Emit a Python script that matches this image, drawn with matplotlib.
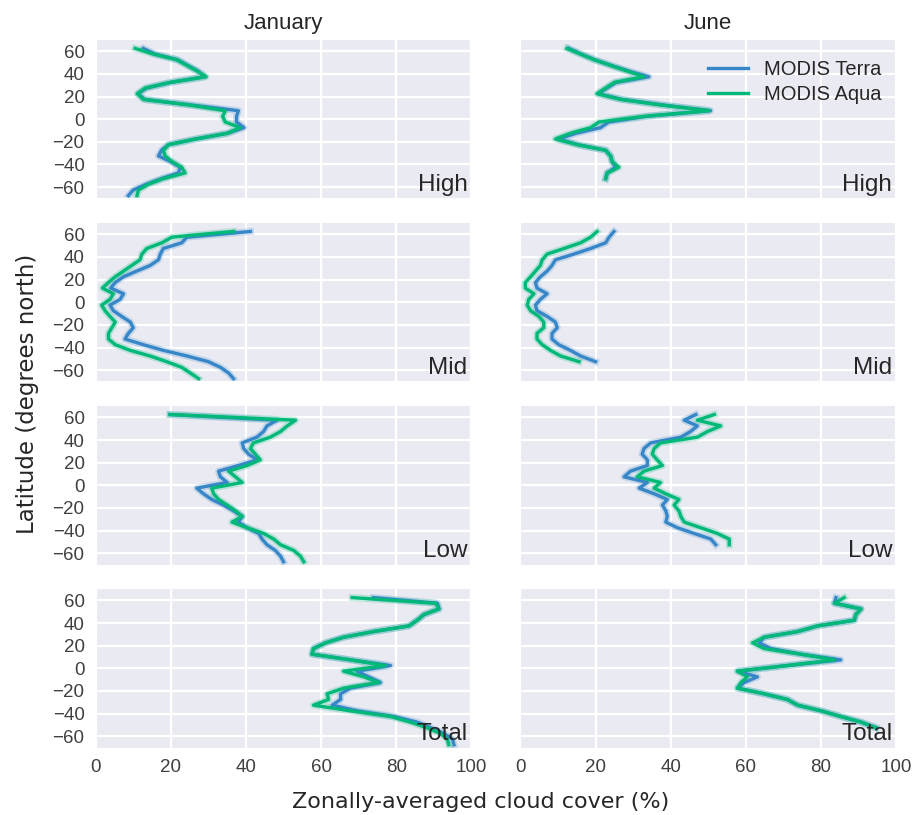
import numpy as np
import matplotlib
matplotlib.use("Agg")
import matplotlib.pyplot as plt

# latitude bin centres (degrees north)
lat_jan = [62.5, 57.5, 52.5, 47.5, 42.5, 37.5, 32.5, 27.5, 22.5, 17.5, 12.5, 7.5, 2.5,
           -2.5, -7.5, -12.5, -17.5, -22.5, -27.5, -32.5, -37.5, -42.5, -47.5, -52.5,
           -57.5, -62.5, -67.5]
lat_jun = [62.5, 57.5, 52.5, 47.5, 42.5, 37.5, 32.5, 27.5, 22.5, 17.5, 12.5, 7.5, 2.5,
           -2.5, -7.5, -12.5, -17.5, -22.5, -27.5, -32.5, -37.5, -42.5, -47.5, -52.5]

#----------------- January -----------------#
jan_high_terra = [12.7, 15.8, 21.8, 24.5, 27.2, 29.0, 20.0, 13.5, 11.3, 13.0, 25.5, 38.0, 37.5,
                  37.5, 39.5, 35.0, 26.6, 19.4, 17.5, 16.7, 20.0, 22.5, 22.0, 17.5, 13.5, 10.0, 8.7]
jan_high_aqua = [10.5, 15.4, 21.6, 24.3, 27.0, 29.4, 19.8, 13.2, 11.1, 12.7, 25.0, 34.5, 33.8,
                 34.5, 38.5, 35.0, 26.6, 19.4, 18.0, 18.5, 20.3, 22.9, 23.8, 18.0, 14.0, 11.4, 11.0]

jan_mid_terra = [41.2, 24.3, 22.9, 18.0, 17.2, 16.7, 14.5, 10.9, 7.4, 5.2, 4.0, 7.4, 6.5,
                 3.8, 4.7, 6.9, 9.2, 10.0, 8.7, 7.8, 12.7, 18.0, 24.3, 30.0, 33.2, 35.4, 36.7]
jan_mid_aqua = [36.7, 20.3, 17.6, 13.6, 12.3, 11.8, 9.6, 7.4, 5.2, 3.4, 1.8, 4.7, 3.8,
                1.6, 2.5, 3.8, 5.2, 4.3, 3.4, 3.4, 5.2, 9.2, 14.5, 18.9, 22.9, 25.2, 27.4]

jan_low_terra = [19.8, 48.3, 45.6, 44.7, 42.9, 39.0, 39.4, 40.7, 43.0, 38.0, 32.7, 33.2, 35.0,
                 26.9, 28.7, 30.9, 34.0, 36.7, 39.0, 38.0, 40.3, 43.4, 44.3, 45.6, 47.8, 49.2, 50.0]
jan_low_aqua = [19.8, 53.2, 51.0, 49.2, 46.5, 42.0, 41.2, 42.5, 43.8, 40.3, 35.4, 37.2, 39.0,
                30.9, 31.4, 32.7, 35.0, 37.2, 39.0, 36.3, 40.3, 44.7, 47.4, 49.2, 52.7, 54.5, 55.4]

jan_total_terra = [74.0, 91.0, 91.4, 87.4, 85.6, 83.4, 74.0, 66.0, 61.2, 58.0, 57.6, 67.8, 78.5,
                   69.6, 72.7, 75.8, 67.8, 65.2, 65.2, 63.0, 69.6, 79.4, 85.6, 89.2, 92.7, 95.0, 95.4]
jan_total_aqua = [68.3, 90.5, 91.4, 87.4, 85.6, 83.4, 74.0, 66.0, 61.2, 58.0, 57.6, 67.8, 77.2,
                  66.0, 71.4, 75.4, 66.0, 61.6, 62.0, 58.0, 67.8, 78.5, 83.8, 88.3, 91.8, 93.6, 94.0]

#----------------- June -----------------#
jun_high_terra = [12.9, 16.2, 19.8, 24.2, 28.8, 34.2, 25.5, 23.0, 20.8, 27.0, 38.0, 50.6, 33.5,
                  23.5, 21.3, 14.7, 10.2, 15.3, 22.7, 24.0, 24.4, 25.3, 23.1, 22.7]
jun_high_aqua = [12.4, 16.0, 19.6, 24.0, 28.4, 32.9, 25.0, 22.7, 20.4, 26.6, 37.5, 50.2, 33.0,
                 20.9, 18.7, 13.3, 9.3, 15.1, 22.7, 24.0, 24.4, 26.2, 23.1, 22.7]

jun_mid_terra = [24.9, 23.6, 22.7, 18.7, 14.2, 9.3, 8.4, 7.1, 5.3, 4.0, 4.4, 7.1, 5.3,
                 4.0, 4.4, 7.1, 9.3, 9.8, 8.4, 8.4, 10.2, 13.3, 16.0, 20.0]
jun_mid_aqua = [20.4, 18.7, 16.0, 11.6, 7.1, 5.8, 5.3, 4.0, 2.7, 1.3, 1.3, 3.6, 2.2,
                1.8, 2.7, 4.9, 6.2, 6.2, 4.4, 4.4, 5.8, 8.0, 10.7, 15.6]

jun_low_terra = [46.7, 43.6, 47.1, 45.3, 42.7, 34.7, 32.9, 32.4, 33.8, 33.8, 29.3, 27.6, 33.8,
                 31.6, 35.6, 39.1, 37.8, 38.7, 39.1, 38.7, 41.8, 46.2, 50.7, 52.0]
jun_low_aqua = [51.6, 47.1, 53.3, 49.8, 47.1, 37.3, 35.6, 35.1, 36.4, 37.8, 32.9, 31.1, 37.3,
                35.6, 38.7, 42.2, 40.9, 42.2, 42.7, 43.6, 48.0, 52.4, 55.6, 55.6]

jun_total_terra = [84.0, 83.6, 90.7, 89.3, 88.9, 79.1, 73.8, 64.9, 63.6, 66.7, 74.7, 85.3, 71.1,
                   57.8, 63.1, 59.6, 57.8, 64.9, 71.1, 73.8, 80.0, 85.3, 90.7, 94.7]
jun_total_aqua = [86.2, 83.6, 90.7, 89.3, 88.9, 79.1, 73.8, 64.9, 61.8, 64.9, 74.7, 83.6, 71.1,
                  57.8, 60.4, 58.7, 57.8, 64.9, 71.1, 73.8, 80.0, 85.3, 90.7, 94.7]

row_names = ["High", "Mid", "Low", "Total"]
month_names = ["January", "June"]

blue = "#3787c8"
green = "#00b878"

plt.rcParams.update({
    "font.family": ["Liberation Sans", "DejaVu Sans"],
    "axes.facecolor": "#EAEAF2",
    "axes.edgecolor": "white",
    "axes.grid": True,
    "grid.color": "white",
    "grid.linewidth": 1.6,
    "axes.axisbelow": True,
    "text.color": ".15",
    "xtick.color": ".25",
    "ytick.color": ".25",
})

fig, axes = plt.subplots(4, 2, figsize=(9.22, 8.15), dpi=100, sharex=True, sharey=True)
fig.subplots_adjust(left=0.1038, right=0.9718, top=0.951, bottom=0.0827,
                    wspace=0.131, hspace=0.155)

data = [
    (jan_high_terra, jan_high_aqua, jun_high_terra, jun_high_aqua),
    (jan_mid_terra, jan_mid_aqua, jun_mid_terra, jun_mid_aqua),
    (jan_low_terra, jan_low_aqua, jun_low_terra, jun_low_aqua),
    (jan_total_terra, jan_total_aqua, jun_total_terra, jun_total_aqua),
]

for r in range(4):
    jt, ja, ut, ua = data[r]
    for c, (lat, terra, aqua) in enumerate([(lat_jan, jt, ja), (lat_jun, ut, ua)]):
        ax = axes[r, c]
        for s in ax.spines.values():
            s.set_visible(False)
        # soft band under each line
        ax.plot(terra, lat, color=blue, lw=5, alpha=0.22)
        ax.plot(aqua, lat, color=green, lw=5, alpha=0.22)
        ax.plot(terra, lat, color=blue, lw=2.4, label="MODIS Terra")
        ax.plot(aqua, lat, color=green, lw=2.4, label="MODIS Aqua")
        ax.text(0.99, 0.05, row_names[r], transform=ax.transAxes, ha="right",
                va="baseline", fontsize=17.5, color=".15")
        ax.set_xlim(0, 100)
        ax.set_ylim(-70, 70)
        ax.set_xticks(np.arange(0, 101, 20))
        ax.set_yticks(np.arange(-60, 61, 20))
        ax.tick_params(length=0, labelsize=13.5, pad=8)
        if r == 0:
            ax.set_title(month_names[c], fontsize=16, pad=8, color=".15")

axes[0, 1].legend(loc="upper right", frameon=False, fontsize=14.5, handlelength=2.0,
                  labelspacing=0.3, borderaxespad=0.3, bbox_to_anchor=(1.0, 0.96))

fig.text(0.03, 0.517, "Latitude (degrees north)", rotation=90, ha="center", va="center",
         fontsize=16.5, family="DejaVu Sans", color=".15")
fig.text(0.521, 0.016, "Zonally-averaged cloud cover (%)", ha="center", va="center",
         fontsize=16, family="DejaVu Sans", color=".15")

fig.savefig("out.png", dpi=100)
